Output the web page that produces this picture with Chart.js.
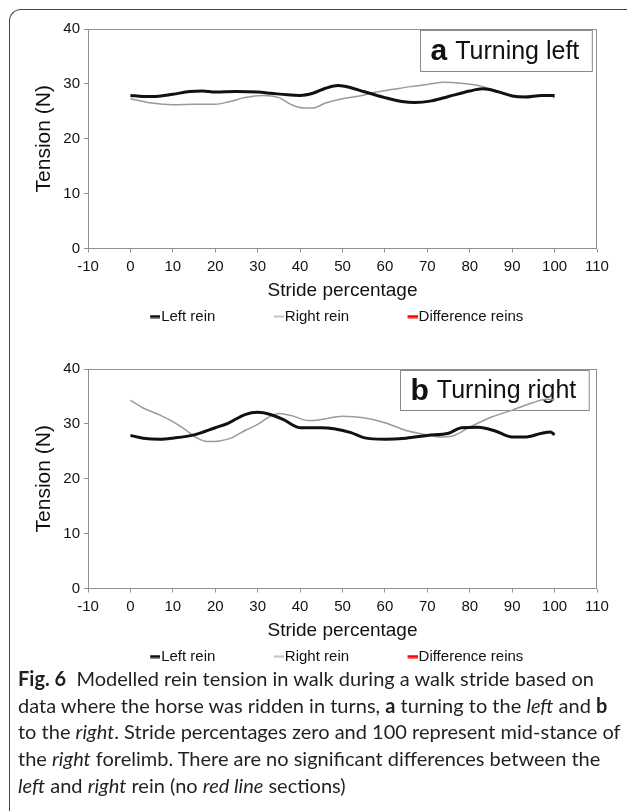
<!DOCTYPE html>
<html>
<head>
<meta charset="utf-8">
<script src="https://cdn.jsdelivr.net/npm/chart.js@4.4.0/dist/chart.umd.min.js"></script>
<style>
  html, body { margin: 0; padding: 0; background: #fff; }
  body { width: 627px; height: 811px; position: relative; overflow: hidden; }
  .frame {
    position: absolute; left: 9px; top: 9px; width: 700px; height: 900px;
    border-left: 1.5px solid #444; border-top: 1.5px solid #444;
    border-top-left-radius: 12px;
  }
  .panel { position: absolute; left: 0; width: 627px; height: 334px; }
  #panelA { top: 0; }
  #panelB { top: 340px; }
  .caption {
    position: absolute; left: 18px; top: 665px;
    font-family: Lato, "Open Sans", sans-serif; font-size: 20px; line-height: 26.7px;
    color: #231f20; white-space: nowrap;
  }
</style>
</head>
<body>
<div class="frame"></div>
<div class="panel" id="panelA"><canvas id="chartA" width="627" height="334"></canvas></div>
<div class="panel" id="panelB"><canvas id="chartB" width="627" height="334"></canvas></div>
<div class="caption">
<b>Fig. 6</b>&nbsp; Modelled rein tension in walk during a walk stride based on<br>
data where the horse was ridden in turns, <b>a</b> turning to the <i>left</i> and <b>b</b><br>
to the <i>right</i>. Stride percentages zero and 100 represent mid-stance of<br>
the <i>right</i> forelimb. There are no significant differences between the<br>
<i>left</i> and <i>right</i> rein (no <i>red line</i> sections)
</div>

<script>
// ---- data ----
const strideTicks = [-10, 0, 10, 20, 30, 40, 50, 60, 70, 80, 90, 100, 110];
const tensionTicks = [0, 10, 20, 30, 40];

// a: turning left
const leftReinA_x = [0, 3, 6, 10, 14, 17, 20, 25, 30, 33, 37, 40, 43, 46, 49, 52, 55, 60, 64, 67, 71, 75, 80, 83, 87, 90, 93, 97, 100];
const leftReinA_y = [27.9, 27.7, 27.7, 28.1, 28.6, 28.7, 28.5, 28.6, 28.5, 28.3, 28.0, 27.9, 28.3, 29.2, 29.7, 29.3, 28.6, 27.5, 26.8, 26.6, 26.9, 27.7, 28.7, 29.1, 28.5, 27.8, 27.6, 27.9, 27.9];
const rightReinA_x = [0, 5, 10, 15, 20, 23, 27, 31, 35, 38, 41, 43, 46, 50, 54, 58, 62, 66, 70, 74, 78, 82, 86, 89, 92, 96, 99, 100];
const rightReinA_y = [27.3, 26.5, 26.2, 26.3, 26.3, 26.7, 27.5, 27.9, 27.5, 26.2, 25.6, 25.6, 26.5, 27.3, 27.8, 28.5, 29.0, 29.5, 29.9, 30.3, 30.1, 29.7, 28.8, 28.0, 27.7, 27.8, 28.0, 27.4];

// b: turning right
const leftReinB_x = [0, 3, 7, 10, 15, 20, 23, 27, 30, 33, 36, 40, 45, 48, 52, 55, 60, 65, 70, 75, 78, 82, 86, 90, 93, 97, 99, 100];
const leftReinB_y = [27.9, 27.4, 27.2, 27.4, 28.0, 29.3, 30.1, 31.7, 32.1, 31.7, 30.8, 29.3, 29.3, 29.1, 28.4, 27.5, 27.2, 27.4, 27.9, 28.3, 29.3, 29.4, 28.7, 27.6, 27.6, 28.3, 28.5, 28.0];
const rightReinB_x = [0, 3, 7, 10, 13, 16, 18, 21, 24, 27, 30, 33, 35, 38, 42, 45, 50, 55, 60, 65, 70, 73, 76, 80, 85, 90, 95, 98, 100];
const rightReinB_y = [34.3, 32.9, 31.6, 30.4, 28.9, 27.3, 26.8, 26.9, 27.5, 28.8, 29.9, 31.4, 31.9, 31.5, 30.6, 30.8, 31.4, 31.1, 30.2, 28.8, 28.0, 27.6, 27.8, 29.4, 31.2, 32.5, 33.9, 34.5, 34.4];

// no significant difference sections
const diffReins_x = [];
const diffReins_y = [];

const FONT = '"Liberation Sans", Arial, sans-serif';
Chart.defaults.font.family = FONT;
Chart.defaults.color = '#111';

const LEGEND_BOX = 60;

// short line marker at the right end of a wide transparent box (Excel-like legend)
function legendMarker(color, thick) {
    const c = document.createElement('canvas');
    c.width = LEGEND_BOX + 13;
    c.height = 4;
    const g = c.getContext('2d');
    g.fillStyle = color;
    g.fillRect(c.width - 10, (4 - thick) / 2, 10, thick);
    return c;
}

const toPoints = (xs, ys) => xs.map((x, i) => ({ x: x, y: ys[i] }));

// plot frame + panel label box (drawn under the curves)
const panelDecor = {
    id: 'panelDecor',
    beforeDatasetsDraw(chart, args, opts) {
        const { ctx, chartArea: a } = chart;
        ctx.save();
        ctx.strokeStyle = '#8f8f8f';
        ctx.lineWidth = 1;
        ctx.strokeRect(Math.round(a.left) + 0.5, Math.round(a.top) + 0.5,
            Math.round(a.width) - 1, Math.round(a.height) - 1);

        ctx.font = 'bold 30px ' + FONT;
        const lw = ctx.measureText(opts.letter).width;
        ctx.font = '25px ' + FONT;
        const tw = ctx.measureText(opts.text).width;
        const w = 10 + lw + 8 + tw + 13;
        const h = opts.height;
        const x0 = Math.round(a.right - opts.inset - w) + 0.5;
        const y0 = Math.round(a.top + 1) + 0.5;
        ctx.fillStyle = '#fff';
        ctx.fillRect(x0, y0, w, h);
        ctx.strokeStyle = '#8a8a8a';
        ctx.strokeRect(x0, y0, w, h);

        ctx.fillStyle = '#111';
        ctx.textBaseline = 'middle';
        ctx.font = 'bold 30px ' + FONT;
        ctx.fillText(opts.letter, x0 + 10, y0 + h / 2 + 1);
        ctx.font = '25px ' + FONT;
        ctx.fillText(opts.text, x0 + 10 + lw + 8, y0 + h / 2 + 1);
        ctx.restore();
    }
};

function makeChart(id, leftX, leftY, rightX, rightY, label) {
    return new Chart(document.getElementById(id), {
        type: 'line',
        data: {
            datasets: [
                {
                    label: 'Left rein',
                    data: toPoints(leftX, leftY),
                    borderColor: '#111',
                    borderWidth: 3,
                    pointRadius: 0,
                    pointStyle: legendMarker('#111', 3),
                    cubicInterpolationMode: 'monotone'
                },
                {
                    label: 'Right rein',
                    data: toPoints(rightX, rightY),
                    borderColor: '#9a9a9a',
                    borderWidth: 1.5,
                    pointRadius: 0,
                    pointStyle: legendMarker('#b0b0b0', 1.5),
                    cubicInterpolationMode: 'monotone'
                },
                {
                    label: 'Difference reins',
                    data: toPoints(diffReins_x, diffReins_y),
                    borderColor: '#ff0000',
                    borderWidth: 3,
                    pointRadius: 0,
                    pointStyle: legendMarker('#ff0000', 3)
                }
            ]
        },
        options: {
            responsive: false,
            animation: false,
            devicePixelRatio: 1,
            layout: { padding: { top: 29, right: 30, left: 20, bottom: 0 } },
            plugins: {
                tooltip: { enabled: false },
                legend: {
                    position: 'bottom',
                    labels: {
                        usePointStyle: true,
                        pointStyleWidth: LEGEND_BOX,
                        padding: 2,
                        color: '#111',
                        font: { size: 15 }
                    }
                },
                panelDecor: label
            },
            scales: {
                x: {
                    type: 'linear',
                    min: -10,
                    max: 110,
                    afterBuildTicks: s => { s.ticks = strideTicks.map(v => ({ value: v })); },
                    afterFit: s => { s.height = 58.5; },
                    border: { display: false },
                    grid: { display: true, drawOnChartArea: false, drawTicks: true, tickLength: 4, color: '#8f8f8f' },
                    ticks: { padding: 5, color: '#111', font: { size: 15 } },
                    title: { display: true, text: 'Stride percentage', color: '#111', font: { size: 19 }, padding: { top: 0, bottom: 5 } }
                },
                y: {
                    min: 0,
                    max: 40,
                    afterBuildTicks: s => { s.ticks = tensionTicks.map(v => ({ value: v })); },
                    afterFit: s => { s.width = 68; },
                    border: { display: false },
                    grid: { display: true, drawOnChartArea: false, drawTicks: true, tickLength: 4, color: '#8f8f8f' },
                    ticks: { padding: 4, color: '#111', font: { size: 15 } },
                    title: { display: true, text: 'Tension (N)', color: '#111', font: { size: 21 }, padding: { top: 11.4, bottom: 0 } }
                }
            }
        },
        plugins: [panelDecor]
    });
}

makeChart('chartA', leftReinA_x, leftReinA_y, rightReinA_x, rightReinA_y,
    { letter: 'a', text: 'Turning left', height: 41, inset: 5 });
makeChart('chartB', leftReinB_x, leftReinB_y, rightReinB_x, rightReinB_y,
    { letter: 'b', text: 'Turning right', height: 40, inset: 8 });
</script>
</body>
</html>
